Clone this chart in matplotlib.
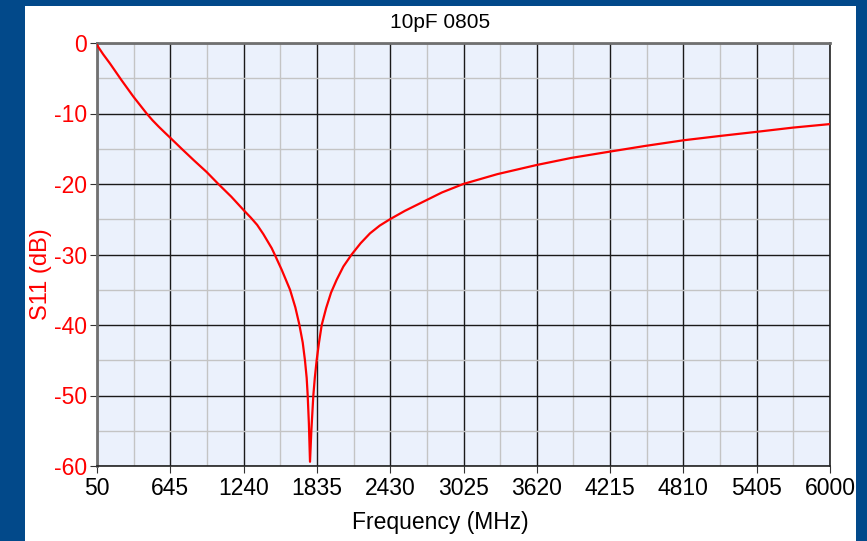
import matplotlib
matplotlib.use("Agg")
import matplotlib.pyplot as plt
from matplotlib.patches import Rectangle
from matplotlib.ticker import FixedLocator

# S11 of a 10pF 0805 cap
freq_mhz = [50, 100, 155, 250, 345, 453, 500, 550, 600, 645, 740, 840, 940, 1035,
            1140, 1240, 1300, 1350, 1400, 1468, 1495, 1550, 1617, 1660, 1692, 1720,
            1738, 1752, 1760, 1770, 1779, 1790, 1806, 1818, 1833, 1852, 1874,
            1910, 1950, 1995, 2050, 2117, 2190, 2266, 2345, 2428, 2550, 2700,
            2850, 3023, 3300, 3620, 3900, 4215, 4500, 4810, 5100, 5405, 5700, 6000]
s11_db = [-0.3, -1.6, -2.9, -5.3, -7.6, -10.0, -10.95, -11.85, -12.7, -13.45,
          -15.05, -16.7, -18.3, -20.0, -21.8, -23.7, -24.8, -25.8, -27.1, -29.1,
          -30.1, -32.2, -35.0, -37.5, -39.9, -42.5, -45.0, -47.5, -49.9, -54.0,
          -59.4, -55.0, -50.0, -47.5, -45.0, -42.5, -40.0, -37.6, -35.4, -33.6,
          -31.7, -30.0, -28.4, -27.0, -25.9, -25.0, -23.8, -22.5, -21.2, -20.0,
          -18.6, -17.3, -16.3, -15.4, -14.6, -13.8, -13.2, -12.6, -12.0, -11.5]

x_ticks = [50, 645, 1240, 1835, 2430, 3025, 3620, 4215, 4810, 5405, 6000]
y_ticks = [0, -10, -20, -30, -40, -50, -60]

plt.rcParams['font.family'] = ['Liberation Sans', 'DejaVu Sans']
plt.rcParams['axes.unicode_minus'] = False

fig = plt.figure(figsize=(8.67, 5.41), dpi=100)
fig.patch.set_facecolor('#02498A')
fig.patches.append(Rectangle((25/867, 0), 831/867, 535/541, transform=fig.transFigure,
                             facecolor='white', edgecolor='none', zorder=-10))

ax = fig.add_axes([97/867, 1-466/541, 733/867, 423/541])
ax.set_facecolor('#EBF1FC')
ax.plot(freq_mhz, s11_db, color='#FF0000', lw=1.6, zorder=3)

ax.set_xlim(50, 6000)
ax.set_ylim(-60, 0)
ax.set_xticks(x_ticks)
ax.set_yticks(y_ticks)
# minor grid halfway between the major ticks
x_minor = [(a + b) / 2 for a, b in zip(x_ticks[:-1], x_ticks[1:])]
y_minor = [(a + b) / 2 for a, b in zip(y_ticks[:-1], y_ticks[1:])]
ax.xaxis.set_minor_locator(FixedLocator(x_minor))
ax.yaxis.set_minor_locator(FixedLocator(y_minor))
ax.grid(which='major', color='#1a1a1a', lw=1.0, zorder=1)
ax.grid(which='minor', color='#c4c4c4', lw=1.0, zorder=0.5)
ax.set_axisbelow(True)

ax.tick_params(axis='x', which='major', labelsize=16.5, length=5, color='#333333', pad=3)
ax.tick_params(axis='y', which='major', labelsize=16.5, length=5, color='#333333',
               labelcolor='red', pad=2)
ax.tick_params(which='minor', length=0)

for side in ['top', 'left']:
    ax.spines[side].set_color('#707070')
    ax.spines[side].set_linewidth(2)
for side in ['right', 'bottom']:
    ax.spines[side].set_color('#222222')
    ax.spines[side].set_linewidth(1.2)

fig.text(440/867, 1-22/541, '10pF 0805', ha='center', va='center', fontsize=15)
fig.text(440/867, 1-522/541, 'Frequency (MHz)', ha='center', va='center', fontsize=16.5)
fig.text(41/867, 1-274/541, 'S11 (dB)', ha='center', va='center', fontsize=17,
         rotation=90, color='red')

plt.savefig('out.png', dpi=100, facecolor=fig.get_facecolor())
